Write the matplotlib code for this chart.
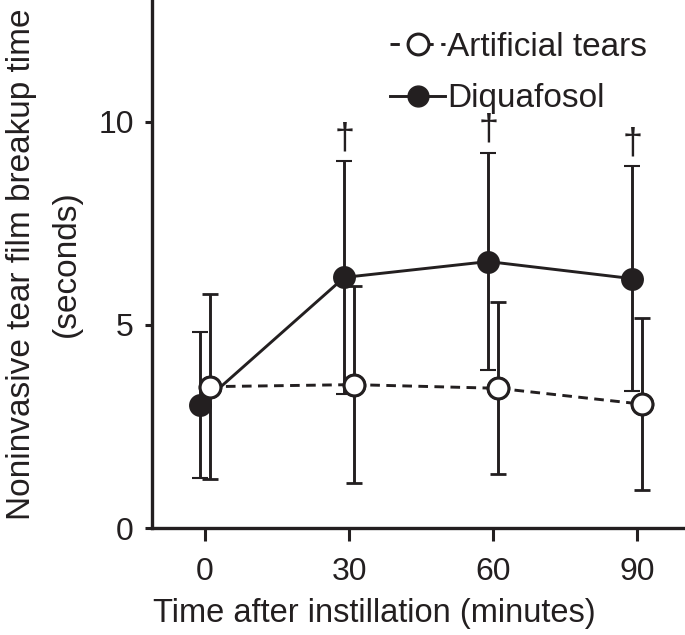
import matplotlib
matplotlib.use("Agg")
import matplotlib.pyplot as plt
from matplotlib.lines import Line2D

plt.rcParams['font.family'] = ['Liberation Sans', 'DejaVu Sans']

times = [0, 30, 60, 90]
diq_mean = [3.03, 6.17, 6.56, 6.14]
diq_sd = [1.79, 2.86, 2.68, 2.77]
art_mean = [3.48, 3.53, 3.44, 3.05]
art_sd = [2.28, 2.42, 2.12, 2.11]
sig_marks = ["", "\u2020", "\u2020", "\u2020"]
x_ticks = [0, 30, 60, 90]
y_ticks = [0, 5, 10]

offset = 1.0
x_diq = [t - offset for t in times]
x_art = [t + offset for t in times]

fig = plt.figure(figsize=(6.85, 6.35), dpi=100)
ax = fig.add_axes([152/685, 107/635, 1 - 152/685, 1 - 107/635])

col = '#231f20'
LW = 2.1
ax.errorbar(x_diq, diq_mean, yerr=diq_sd, fmt='o-', color=col, lw=LW,
            ms=15, mfc=col, mec=col, mew=1.5, elinewidth=2.1, capsize=6,
            capthick=2.1, zorder=3)
ax.errorbar(x_art, art_mean, yerr=art_sd, fmt='o', color=col, lw=LW,
            ms=15, mfc='white', mec=col, mew=2, elinewidth=2.1, capsize=6,
            capthick=2.1, zorder=4)
ax.plot(x_art, art_mean, color=col, lw=LW, ls=(0, (3.3, 2.2)), zorder=3.5)
ax.plot(x_art, art_mean, 'o', ms=15, mfc='white', mec=col, mew=2.2, zorder=5)

for xd, m, s, mark in zip(x_diq, diq_mean, diq_sd, sig_marks):
    if mark:
        ax.text(xd, m + s + 0.12, mark, ha='center', va='bottom',
                fontsize=26, color=col)

ax.set_xlim(-11.06, 100)
ax.set_ylim(0, 13)
ax.set_xticks(x_ticks)
ax.set_yticks(y_ticks)
ax.tick_params(axis='both', labelsize=23, colors=col, width=2.2)
ax.tick_params(axis='x', length=9, pad=12)
ax.tick_params(axis='y', length=5, pad=8)
for sp in ['top', 'right']:
    ax.spines[sp].set_visible(False)
for sp in ['left', 'bottom']:
    ax.spines[sp].set_linewidth(2.4)
    ax.spines[sp].set_color(col)

ax.set_xlabel('Time after instillation (minutes)', fontsize=23.5, color=col)
ax.xaxis.set_label_coords(0.418, -0.133)
ax.set_ylabel('Noninvasive tear film breakup time\n(seconds)', fontsize=24,
              color=col, linespacing=1.6)
ax.yaxis.set_label_coords(-0.131, 0.5)

handles = [
    Line2D([], [], color=col, lw=LW, ls=(0, (3.2, 2.6)), marker='o', ms=15,
           mfc='white', mec=col, mew=2.2),
    Line2D([], [], color=col, lw=LW, marker='o', ms=15, mfc=col, mec=col),
]
leg = ax.legend(handles, ['Artificial tears', 'Diquafosol'], loc='upper left',
                bbox_to_anchor=(0.422, 0.965), frameon=False, fontsize=24,
                handlelength=1.65, handletextpad=0.06, labelspacing=0.62,
                borderaxespad=0.0)
for t in leg.get_texts():
    t.set_color(col)

fig.savefig('out.png', dpi=100)
